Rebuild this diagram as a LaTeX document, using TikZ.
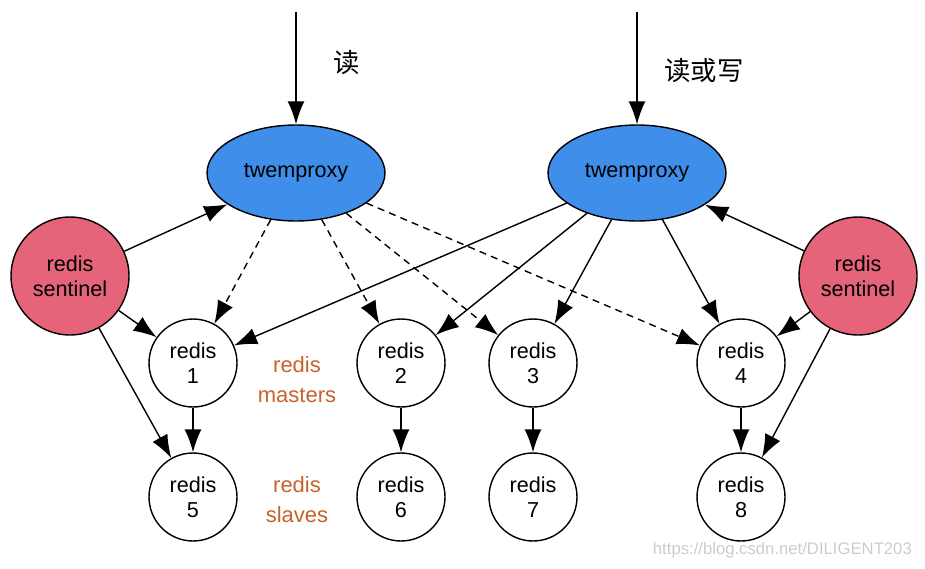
\documentclass[tikz,border=0pt]{standalone}
\usepackage{fontspec}
\setmainfont{Liberation Sans}
\newfontfamily\cjk{Noto Sans CJK SC}
\usetikzlibrary{arrows.meta,shapes.geometric}
\definecolor{proxyblue}{RGB}{62,142,234}
\definecolor{sentred}{RGB}{229,100,122}
\definecolor{groupbrown}{RGB}{200,98,42}

\begin{document}
\begin{tikzpicture}
  [x=0.02cm,y=-0.02cm,
   every node/.style={font=\fontsize{12.3}{14}\selectfont,align=center},
   proxy/.style={draw,line width=0.8pt,ellipse,fill=proxyblue,minimum width=3.56cm,minimum height=1.92cm},
   sentinel/.style={draw,line width=0.8pt,circle,fill=sentred,minimum size=2.36cm},
   redisnode/.style={draw,line width=0.8pt,circle,fill=white,minimum size=1.76cm},
   grouplabel/.style={text=groupbrown,font=\fontsize{12.5}{17}\selectfont},
   link/.style={-{Latex[length=0.46cm,width=0.34cm]},line width=0.8pt},
   dashlink/.style={link,dash pattern=on 4pt off 3pt}]
  \useasboundingbox (0,0) rectangle (925,568);

  \node[proxy] (pl) at (296,173) {twemproxy};
  \node[proxy] (pr) at (637,173) {twemproxy};
  \node[sentinel] (sl) at (70,276)  {redis\\sentinel};
  \node[sentinel] (sr) at (858,276) {redis\\sentinel};

  \node[redisnode] (r1) at (193,363) {redis\\1};
  \node[redisnode] (r2) at (401,363) {redis\\2};
  \node[redisnode] (r3) at (533,363) {redis\\3};
  \node[redisnode] (r4) at (741,363) {redis\\4};
  \node[redisnode] (r5) at (193,497) {redis\\5};
  \node[redisnode] (r6) at (401,497) {redis\\6};
  \node[redisnode] (r7) at (533,497) {redis\\7};
  \node[redisnode] (r8) at (741,497) {redis\\8};

  \node[grouplabel] (gm) at (297,380) {redis\\masters};
  \node[grouplabel] (gs) at (297,500) {redis\\slaves};

  % client requests
  \coordinate (inl) at (296,12);
  \coordinate (inr) at (637,12);
  \draw[link] (inl) -- (pl);
  \draw[link] (inr) -- (pr);
  \node[font=\cjk\fontsize{15}{18}\selectfont] (rd) at (347,63) {读};
  \node[font=\cjk\fontsize{15}{18}\selectfont] (rw) at (704,71) {读或写};

  \foreach \from/\to in {sl/pl,sl/r1,sl/r5,sr/pr,sr/r4,sr/r8,
                         pr/r1,pr/r2,pr/r3,pr/r4,
                         r1/r5,r2/r6,r3/r7,r4/r8}
    \draw[link] (\from) -- (\to);
  \foreach \to in {r1,r2,r3,r4}
    \draw[dashlink] (pl) -- (\to);

  \node[text=black!20,font=\fontsize{9.5}{11}\selectfont,anchor=east] (wm) at (918,550) {https://blog.csdn.net/DILIGENT203};
\end{tikzpicture}
\end{document}
